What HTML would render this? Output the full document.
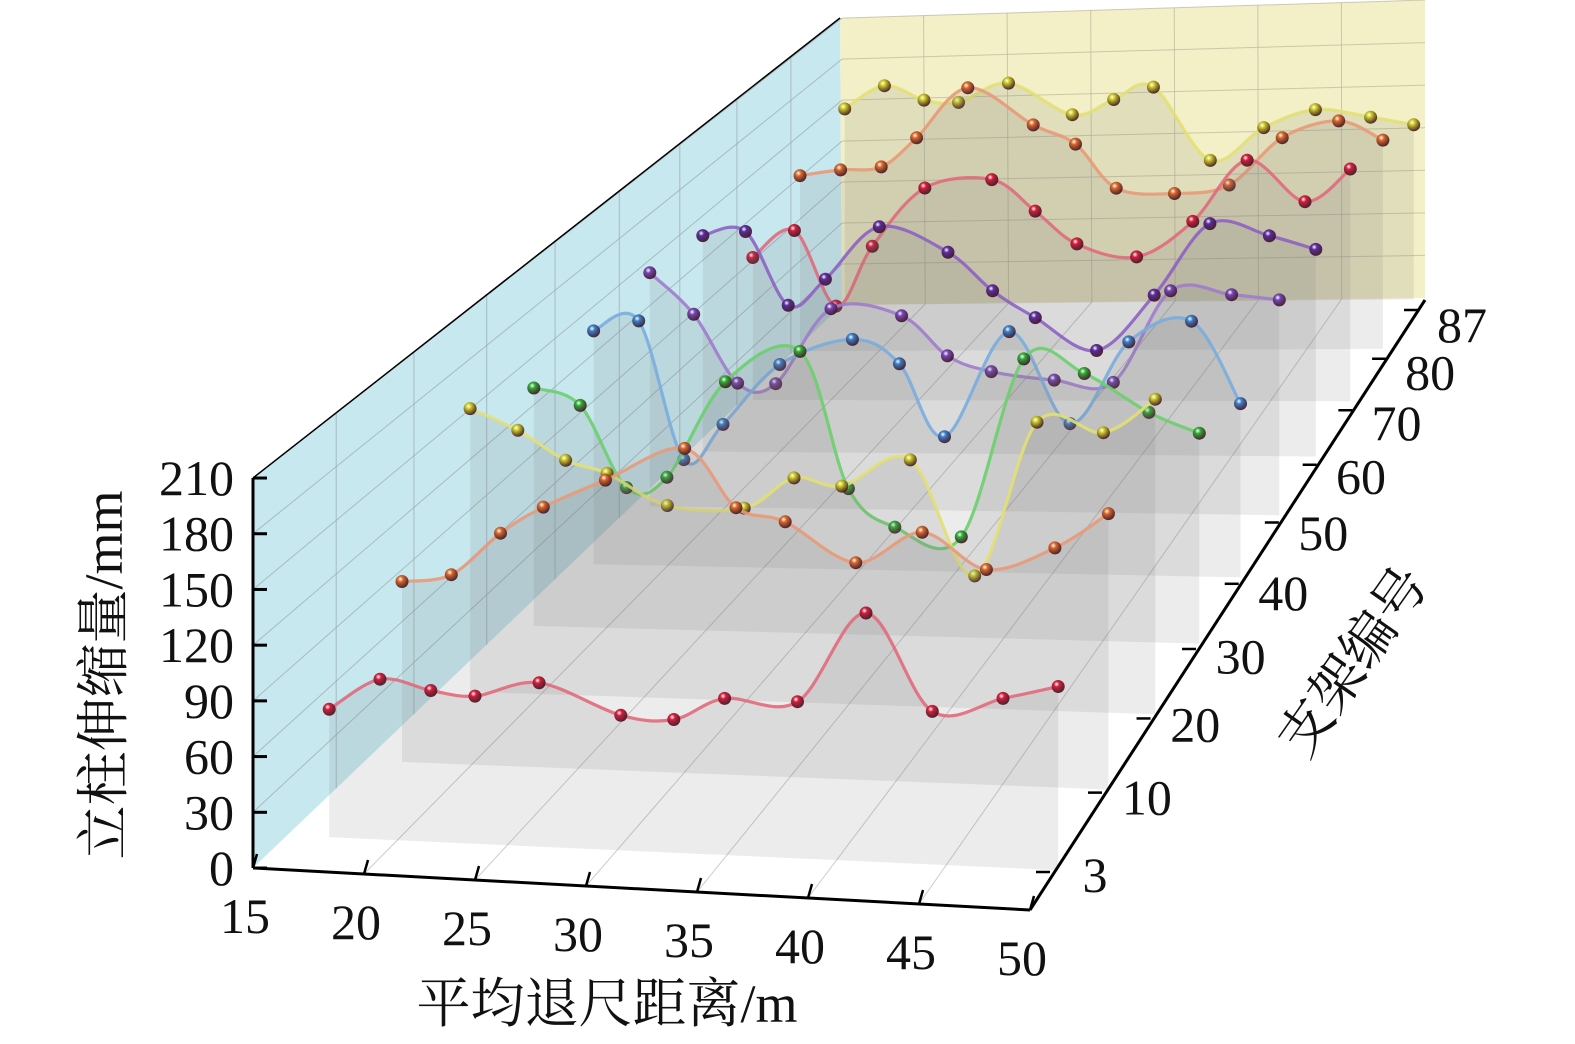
<!DOCTYPE html>
<html><head><meta charset="utf-8">
<style>
html,body{margin:0;padding:0;background:#fff;}
svg{display:block;}
text{font-family:"Liberation Serif","Noto Serif CJK SC",serif;fill:#111;}
</style></head>
<body>
<svg id="chart" width="1575" height="1044" viewBox="0 0 1575 1044" xmlns="http://www.w3.org/2000/svg">
<defs id="defs"></defs>
<g id="walls">
  <polygon points="253,868 1030,910 1425,298 842,305" fill="#ffffff"/>
  <polygon points="253,478 253,868 842,305 840,18" fill="#c8e8f0"/>
  <polygon points="840,18 1425,0 1425,298 842,305" fill="#f3efc6"/>
</g>
<g id="grid"></g>
<g id="series"></g>
<g id="axes"></g>
<text x="607" y="1022" font-size="54" text-anchor="middle">平均退尺距离/m</text>
<text x="0" y="0" font-size="54" text-anchor="middle" transform="translate(122,675) rotate(-90)">立柱伸缩量/mm</text>
<text x="0" y="0" font-size="54" text-anchor="middle" transform="translate(1368,672) rotate(-55)">支架编号</text>
</svg>
<script>
const retreat = [17.1,19.4,21.7,23.7,26.6,30.3,32.7,35.0,38.3,41.4,44.4,47.6,50.1];
const supportLabels = ['3','10','20','30','40','50','60','70','80','87'];
const xTicks = [15,20,25,30,35,40,45,50];
const zTicks = [0,30,60,90,120,150,180,210];
const s3  = [71,89,84,82,91,75,74,87,87,138,85,94,102];
const s10 = [104,109,134,150,167,187,154,147,125,144,124,138,159];
const s20 = [169,157,140,133,115,115,134,130,147,79,172,167,188];
const s30 = [147,137,87,94,154,174,90,67,62,173,165,142,130];
const s40 = [149,156,68,91,130,147,132,86,154,96,149,163,111];
const s50 = [154,127,82,82,132,128,102,92,87,86,147,145,142];
const s60 = [147,150,100,118,154,137,111,93,71,109,158,150,141];
const s70 = [100,119,66,108,149,155,133,110,101,126,169,140,163];
const s80 = [127,131,133,154,190,163,149,117,113,119,153,165,151];
const s87 = [146,163,152,150,164,140,151,160,105,129,142,136,130];
const allSeries = [s3,s10,s20,s30,s40,s50,s60,s70,s80,s87];
const ballColors = ['#d21f3c','#d9692a','#c9c823','#2fae34','#3b7fc8','#7446b4','#5a2d9e','#d21f3c','#d9692a','#c9c823'];
const lineColors = ['#e06a7c','#e89a78','#e2e072','#6ccf6c','#7aaddf','#a07ccc','#8d62c2','#e06a7c','#e89a78','#e2e072'];

const NS='http://www.w3.org/2000/svg';
function mk(tag, attrs, parent){const e=document.createElementNS(NS,tag);for(const k in attrs)e.setAttribute(k,attrs[k]);if(parent)parent.appendChild(e);return e;}
function lerp(a,b,t){return a+(b-a)*t;}
function depthF(i){const s=i/9;return s/(s+(1-s)*0.76);}
function proj(x,i,z){
  const f=depthF(i);
  const blx=lerp(327,843,f), bly=lerp(837,305,f);
  const brx=lerp(1056,1412,f), bry=lerp(870,299.4,f);
  const t=(x-17)/33;
  const zs=1.80-0.457*f;
  return [lerp(blx,brx,t), lerp(bly,bry,t)-z*zs];
}
function spline(pts){
  let d='M'+pts[0][0].toFixed(1)+','+pts[0][1].toFixed(1);
  for(let k=0;k<pts.length-1;k++){
    const p0=pts[k-1]||pts[k],p1=pts[k],p2=pts[k+1],p3=pts[k+2]||p2;
    const c1=[p1[0]+(p2[0]-p0[0])/6,p1[1]+(p2[1]-p0[1])/6];
    const c2=[p2[0]-(p3[0]-p1[0])/6,p2[1]-(p3[1]-p1[1])/6];
    d+=' C'+c1[0].toFixed(1)+','+c1[1].toFixed(1)+' '+c2[0].toFixed(1)+','+c2[1].toFixed(1)+' '+p2[0].toFixed(1)+','+p2[1].toFixed(1);
  }
  return d;
}
const defs=document.getElementById('defs');
ballColors.forEach((c,i)=>{
  const g=mk('radialGradient',{id:'ball'+i,cx:'0.38',cy:'0.32',r:'0.7'},defs);
  mk('stop',{offset:'0','stop-color':'#ffffff'},g);
  mk('stop',{offset:'0.3','stop-color':c},g);
  mk('stop',{offset:'1','stop-color':'#3a1020','stop-opacity':'0.9'},g);
});

const grid=document.getElementById('grid');
function gl(x1,y1,x2,y2,name,col){
  const l=mk('line',{x1:x1,y1:y1,x2:x2,y2:y2,stroke:col||'#9aa6aa','stroke-width':1,'stroke-opacity':0.7},grid);
  
  
}
zTicks.forEach(z=>{
  if(z===0)return;
  gl(253,868-z*1.857,842,305-z*1.366,'side-wall-gridline');
  gl(842,305-z*1.366,1425,298-z*1.419,'back-wall-gridline','#b8b6a0');
});
xTicks.forEach(x=>{
  if(x===15||x===50)return;
  const k=(x-15)/35;
  gl(lerp(842,1425,k),lerp(305,298,k),lerp(840,1425,k),lerp(18,0,k),'back-wall-gridline','#b8b6a0');
  gl(lerp(253,1030,k),lerp(868,910,k),lerp(842,1425,k),lerp(305,298,k),'floor-gridline','#b8b8b8');
});
for(let i=1;i<9;i++){
  const f=depthF(i);
  const bx=lerp(253,842,f), by=lerp(868,305,f), ty=lerp(478,18,f);
  gl(bx,by,bx,ty,'side-wall-gridline');
}

const sg=document.getElementById('series');
for(let i=9;i>=0;i--){
  const vals=allSeries[i];
  const g=mk('g',{},sg);
  
  
  const pts=vals.map((z,k)=>proj(retreat[k],i,z));
  const bl=proj(retreat[0],i,0), br=proj(retreat[retreat.length-1],i,0);
  const cur=mk('path',{d:spline(pts)+' L'+br[0].toFixed(1)+','+br[1].toFixed(1)+' L'+bl[0].toFixed(1)+','+bl[1].toFixed(1)+' Z',fill:'#7a7a7a','fill-opacity':0.14,stroke:'none'},g);
  
  
  const ln=mk('path',{d:spline(pts),fill:'none',stroke:lineColors[i],'stroke-width':3.2,'stroke-opacity':0.9},g);
  
  
  pts.forEach(p=>{
    const c=mk('circle',{cx:p[0].toFixed(1),cy:p[1].toFixed(1),r:6.5,fill:'url(#ball'+i+')'},g);
    
    
  });
}

const ax=document.getElementById('axes');
function al(x1,y1,x2,y2,w,name){
  const l=mk('line',{x1:x1,y1:y1,x2:x2,y2:y2,stroke:'#000','stroke-width':w},ax);
  
  
}
function tx(x,y,s,anchor,name){
  const t=mk('text',{x:x,y:y,'font-size':50,'text-anchor':anchor,'dominant-baseline':'central'},ax);
  t.textContent=s;
  
  
}
al(253,478,840,18,1.5,'side-wall-top-edge');
al(253,478,253,868,3,'z-axis-line');
al(253,868,1030,910,3,'x-axis-line');
al(1030,910,1425,300,3,'depth-axis-line');
zTicks.forEach(z=>{
  const y=868-z*1.857;
  al(253,y,267,y,3,'z-axis-tick');
  tx(234,y,String(z),'end','z-tick-label');
});
xTicks.forEach(x=>{
  const k=(x-15)/35;
  const px=lerp(253,1030,k), py=lerp(868,910,k);
  al(px,py,px+4,py-14,2.5,'x-axis-tick');
  tx(px-8,py+48,String(x),'middle','x-tick-label');
});
supportLabels.forEach((s,i)=>{
  const f=depthF(i);
  const px=lerp(1050,1418,f), py=lerp(872,310,f);
  al(px,py,px-14,py,2.5,'depth-axis-tick');
  tx(lerp(1095,1462,f),lerp(875,325,f),s,'middle','depth-tick-label');
});
</script>
</body></html>
